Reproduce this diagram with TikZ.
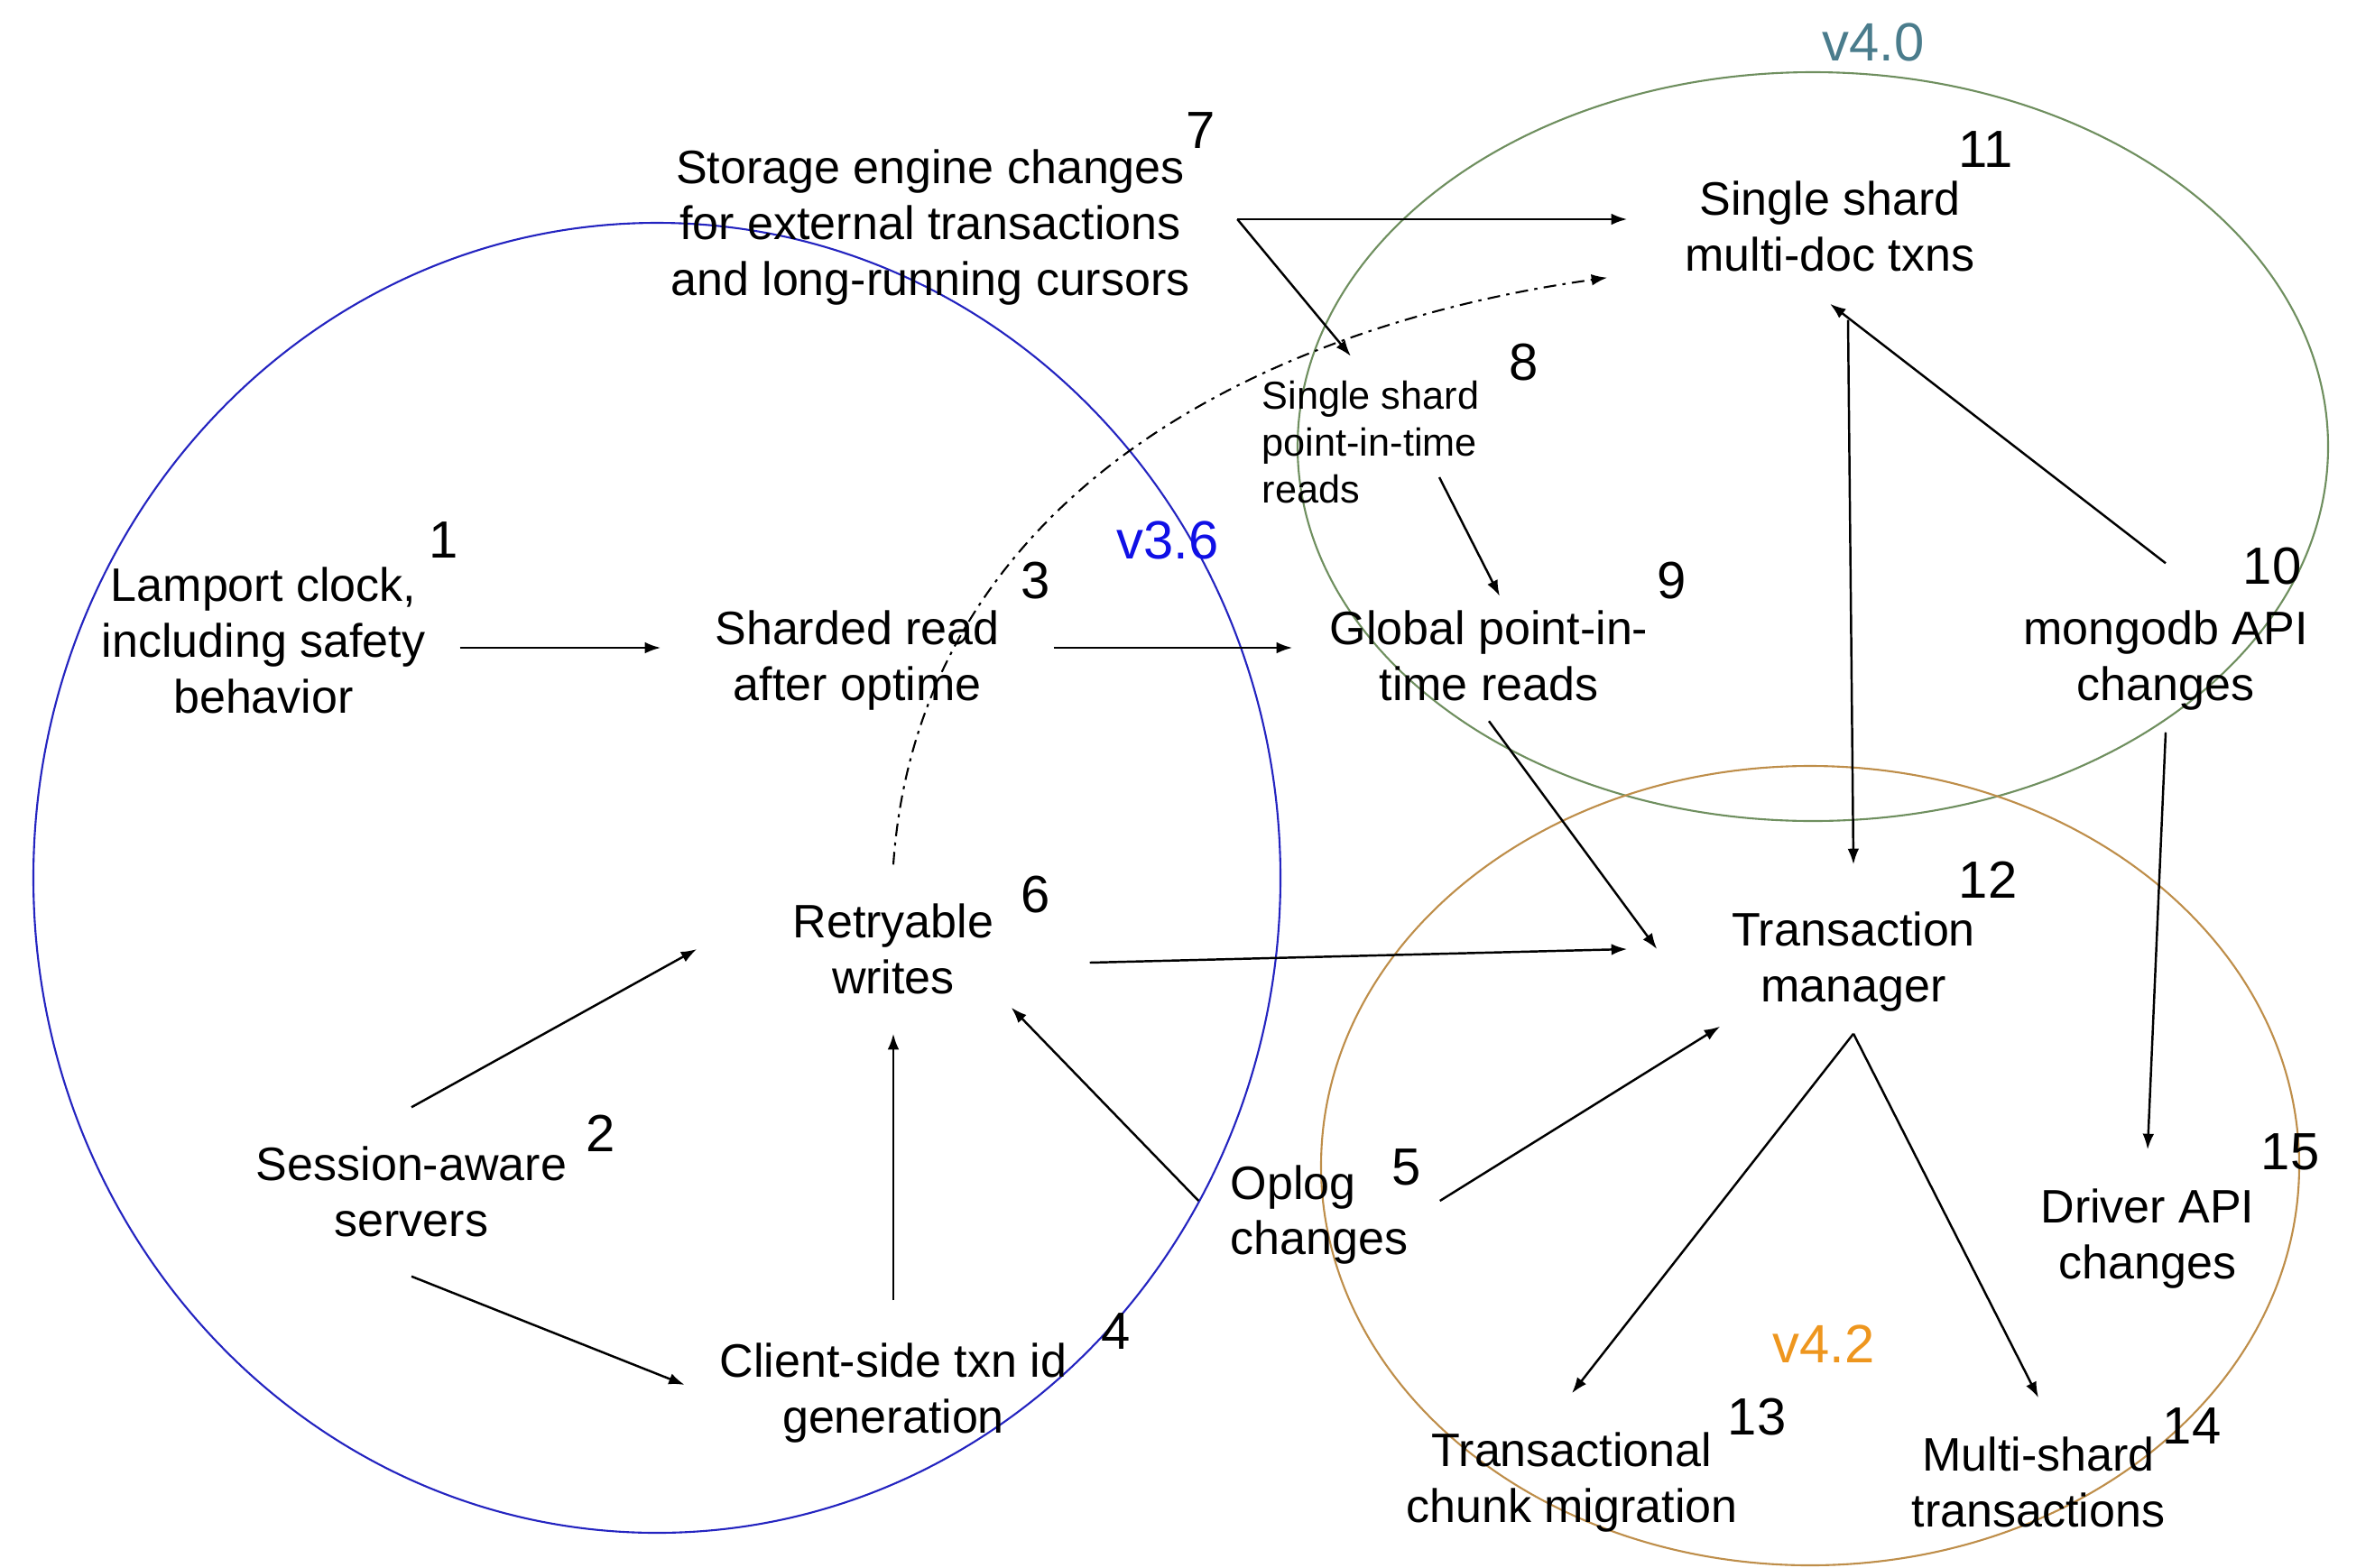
\documentclass[tikz,border=0pt]{standalone}
\usepackage{fontspec}
\setmainfont{Liberation Sans}
\usetikzlibrary{positioning,arrows.meta}

\definecolor{ring36}{HTML}{2424C0}
\definecolor{text36}{HTML}{1010E6}
\definecolor{ring40}{HTML}{6F8F5F}
\definecolor{text40}{HTML}{4A7C8C}
\definecolor{ring42}{HTML}{BE8E4A}
\definecolor{text42}{HTML}{EE961E}

\begin{document}
\begin{tikzpicture}[>={Latex[length=5pt,width=3.6pt]},node distance=3cm,on grid,line width=0.7pt,
  item/.style={minimum width=4.33cm,minimum height=1.85cm,inner sep=0pt,align=center,
    font=\fontsize{14.8}{17.6}\selectfont},
  small item/.style={item,align=left,font=\fontsize{12.3}{14.8}\selectfont},
  sink/.style={text height=#1,text depth=0pt},
  num/.style={font=\fontsize{16.5}{19}\selectfont},
  release/.style={font=\fontsize{17}{20}\selectfont},
  ring/.style={line width=0.6pt}]

 \useasboundingbox (0,0) rectangle (26.32,-17.37);

 % release rings
 \draw[ring,ring36] (7.28,-9.73) ellipse [x radius=6.91cm,y radius=7.26cm];
 \draw[ring,ring40] (20.09,-4.95) ellipse [x radius=5.71cm,y radius=4.15cm];
 \draw[ring,ring42] (20.06,-12.92) ellipse [x radius=5.42cm,y radius=4.43cm];
 \node[release,text=text36] (r36) at (12.94,-5.99) {v3.6};
 \node[release,text=text40] (r40) at (20.76,-0.47) {v4.0};
 \node[release,text=text42] (r42) at (20.21,-14.90) {v4.2};

 % features
 \node[item,text depth=0.17cm] (lamport) at (2.92,-7.18) {Lamport clock,\\including safety\\behavior};
 \node[item,sink=33.2pt] (sharded) [right=6.58cm of lamport] {Sharded read\\after optime};
 \node[item,sink=33.2pt,minimum height=1.6cm] (global) [right=7.0cm of sharded] {Global point-in-\\time reads};
 \node[item,sink=33.2pt] (mongo) [right=7.5cm of global] {mongodb API\\changes};
 \node[item,sink=47.9pt,minimum width=6.78cm] (storage) [above right=4.75cm and 0.81cm of sharded]
   {Storage engine changes\\for external transactions\\and long-running cursors};
 \node[item,sink=32.7pt,minimum width=4.47cm] (ssmd) [right=9.97cm of storage] {Single shard\\multi-doc txns};
 \node[small item,minimum width=2.5cm,minimum height=1.88cm] (sspit) [below right=2.47cm and 4.88cm of storage]
   {Single shard\\point-in-time\\reads};
 \node[item] (retry) [below right=3.34cm and 0.40cm of sharded] {Retryable\\writes};
 \node[item] (session) [below right=6.03cm and 1.64cm of lamport] {Session-aware\\servers};
 \node[item,sink=30.3pt,minimum width=4.6cm] (clientid) [below=4.83cm of retry] {Client-side txn id\\generation};
 \node[item,sink=34.1pt,align=left,minimum width=2.65cm] (oplog) [below right=2.79cm and 4.72cm of retry] {Oplog\\changes};
 \node[item,sink=33.2pt] (txnmgr) [right=10.64cm of retry] {Transaction\\manager};
 \node[item,text depth=0pt] (driver) [below left=6.5cm and 0.2cm of mongo] {Driver API\\changes};
 \node[item,text depth=0pt] (chunk) [below left=5.86cm and 3.12cm of txnmgr] {Transactional\\chunk migration};
 \node[item] (multi) [below right=5.91cm and 2.05cm of txnmgr] {Multi-shard\\transactions};

 % numbers
 \node[num] (n1) [above right=1.19cm and 2.00cm of lamport] {1};
 \node[num] (n2) [above right=0.65cm and 2.10cm of session] {2};
 \node[num] (n3) [above right=0.74cm and 1.98cm of sharded] {3};
 \node[num] (n4) [above right=0.59cm and 2.47cm of clientid] {4};
 \node[num] (n5) [above right=0.37cm and 0.97cm of oplog] {5};
 \node[num] (n6) [above right=0.60cm and 1.58cm of retry] {6};
 \node[num] (n7) [above right=0.98cm and 3.00cm of storage] {7};
 \node[num] (n8) [above right=0.88cm and 1.70cm of sspit] {8};
 \node[num] (n9) [above right=0.74cm and 2.03cm of global] {9};
 \node[num] (n10) [above right=0.90cm and 1.18cm of mongo] {10};
 \node[num] (n11) [above right=0.77cm and 1.73cm of ssmd] {11};
 \node[num] (n12) [above right=0.77cm and 1.49cm of txnmgr] {12};
 \node[num] (n13) [above right=0.67cm and 2.05cm of chunk] {13};
 \node[num] (n14) [above right=0.62cm and 1.70cm of multi] {14};
 \node[num] (n15) [above right=0.91cm and 1.58cm of driver] {15};

 \path[->]
 (lamport) edge (sharded)
 (sharded) edge (global)
 (storage.east) edge (ssmd.west)
 (storage.east) edge ([xshift=-0.22cm]sspit.north)
 ([shift={(0.76cm,-0.39cm)}]sspit.center) edge ([shift={(0.12cm,-0.24cm)}]global.north)
 (mongo.north) edge (ssmd.south)
 ([shift={(0.2cm,-0.18cm)}]ssmd.south) edge (txnmgr.north)
 (mongo.south) edge (driver.north)
 (global.south) edge (txnmgr.west)
 ([yshift=-0.15cm]retry.east) edge ([xshift=-0.33cm]txnmgr.west)
 (oplog.east) edge ([shift={(0.70cm,0.08cm)}]txnmgr.south west)
 (txnmgr.south) edge (chunk.north)
 (txnmgr.south) edge (multi.north)
 (session.north) edge (retry.west)
 (session.south) edge (clientid.west)
 (clientid.north) edge (retry.south)
 (oplog.west) edge ([shift={(-0.87cm,0.29cm)}]retry.south east)
 (retry.north) edge [line width=0.6pt,dash pattern=on 4pt off 2pt on 1pt off 2pt,out=86,in=188]
   ([shift={(-0.22cm,0.29cm)}]ssmd.south west)
 ;
\end{tikzpicture}
\end{document}
